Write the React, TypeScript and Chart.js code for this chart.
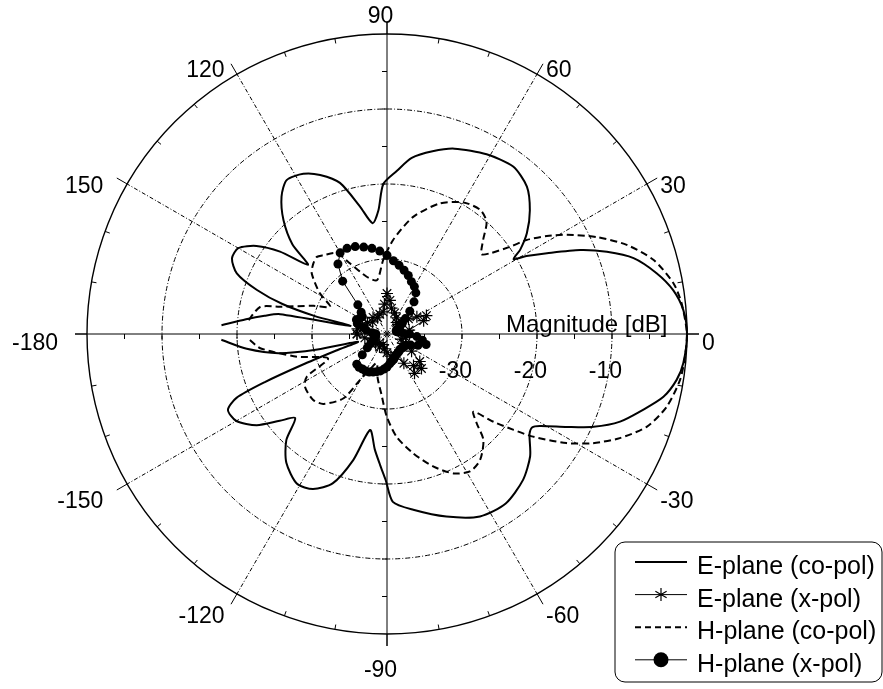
import React, { useEffect, useRef } from 'react';
import { Chart, registerables } from 'chart.js';

Chart.register(...registerables);

// ---------- data (angle in degrees, magnitude in dB) ----------
const ePlaneCoAngles = [
  -178, -174, -170, -167.5, -165, -162, -160, -158.5, -157, -154.5,
  -150, -145, -141, -137.5, -133.5, -128, -121, -115.5, -110, -105,
  -100, -96, -93, -90.5, -88, -81.5, -72, -63, -55, -47,
  -40.5, -35, -32.8, -31, -27.3, -24.2, -20.6, -16.5, -12.8, -9,
  -5.6, 0, 4.6, 8.7, 12.7, 17.1, 20.5, 23.5, 26.8, 29.2,
  30.6, 32.3, 35.8, 40.9, 46.5, 53, 61, 70, 76, 82,
  86.5, 91.4, 94, 97.4, 102, 107.3, 112.8, 117.6, 123.1, 127.5,
  132.3, 136.5, 138.8, 142.4, 146, 150, 154, 158, 161.3, 164,
  166, 167.5, 169.5, 171.5, 174, 177,
];
const ePlaneCoDb = [
  -17.9, -21.2, -25.3, -30.5, -36, -33, -28, -22.5, -18.2, -16.5,
  -16.8, -18.8, -21.6, -23.4, -20.5, -18.2, -16.7, -17.1, -18.8, -22.6,
  -27, -24.5, -22.5, -20.5, -17.6, -16.3, -14.4, -12.7, -12.4, -13.4,
  -14.9, -16.8, -17.0, -16.2, -13.0, -9.8, -6.8, -4.4, -2.2, -0.9,
  -0.3, 0, -0.36, -1.4, -3.15, -5.6, -8.7, -11.9, -16.1, -18.7,
  -20.4, -19.0, -17.0, -14.8, -12.9, -12.05, -12.6, -13.7, -14.9, -16.3,
  -18.2, -20, -23.5, -25.1, -22.6, -18.9, -17.0, -15.9, -15.5, -16.9,
  -19.5, -22.6, -26.0, -22.0, -19.0, -17.1, -17.0, -18.4, -21.7, -25.5,
  -30, -35, -25.5, -23.5, -21.1, -17.9,
];

const ePlaneXAngles = [
  -180, -170, -160, -150, -140, -130, -120, -110, -100, -90,
  -80, -70, -60, -55, -50, -45, -40, -35, -30, -20,
  -10, 0, 10, 20, 25, 30, 35, 40, 50, 60,
  70, 80, 85, 90, 95, 100, 110, 120, 130, 140,
  150, 160, 170, 180,
];
const ePlaneXDb = [
  -36, -37, -38, -37.5, -38, -38.5, -38, -38.5, -38, -37.5,
  -37, -37, -35.5, -33.6, -34.5, -33.5, -34.3, -36, -37.5, -38,
  -37.5, -37, -37, -34.8, -34.2, -35.4, -36.5, -38, -38, -37.5,
  -37, -36.5, -35.5, -34.6, -36, -37, -37.2, -37.5, -37.1, -37.5,
  -37, -36.5, -36, -36,
];

const hPlaneCoAngles = [
  -177.5, -173.6, -165.9, -157.5, -152, -147.3, -138.2, -132.3, -124.2, -120.4,
  -115, -109.4, -102, -95, -90.2, -84.6, -77.6, -70.8, -64.5, -58.9,
  -53.6, -47.7, -44.9, -42, -39.5, -37.2, -35.1, -31.3, -27.9, -24.1,
  -19.6, -14.6, -8.9, -4.4, 0, 5.9, 10, 15.5, 20.4, 24.8,
  28.9, 31.5, 33.9, 35.3, 38, 40.2, 44.3, 48.4, 53.1, 59.8,
  67.9, 77.4, 86.2, 92.9, 100.5, 109.5, 117.6, 121.9, 128.9, 132.3,
  136.2, 141.1, 148.7, 154.4, 159, 165.7, 168, 175.6,
];
const hPlaneCoDb = [
  -21.7, -23.0, -27.6, -31.5, -27.9, -27.0, -26.8, -27.4, -29.6, -32.9,
  -35, -35.9, -34, -31.8, -29.0, -26.2, -23.7, -21.3, -19.4, -18.6,
  -19.1, -20.9, -23.1, -24.5, -21.6, -18.9, -16.2, -12.0, -8.9, -6.0,
  -3.2, -1.47, -0.45, -0.15, 0, -0.5, -1.2, -3.1, -5.9, -9.2,
  -12.6, -15.0, -17.5, -19.8, -22.5, -23.5, -22.1, -20.0, -19.3, -19.7,
  -21.2, -24.0, -27.4, -30.1, -32.7, -31.9, -29.4, -27.3, -26.5, -26.1,
  -26.4, -27.1, -29.5, -31.6, -29.5, -25.3, -22.7, -21.2,
];

const hPlaneXAngles = [
  -180, -175, -170, -165, -160, -155, -150, -145, -140, -135,
  -130, -125, -120, -115, -110, -105, -100, -95, -90, -85,
  -80, -75, -70, -65, -60, -55, -50, -45, -40, -35,
  -30, -25, -20, -15, -10, -5, 0, 5, 10, 15,
  20, 25, 30, 35, 40, 45, 50, 55, 60, 65,
  70, 75, 80, 85, 90, 95, 100, 105, 110, 115,
  120, 125, 130, 135, 140, 145, 150, 155, 160, 165,
  170, 175, 180,
];
const hPlaneXDb = [
  -38.5, -38.5, -38.4, -38.3, -38.2, -38, -37.5, -36.8, -35.7, -34.3,
  -34.2, -34.3, -34.3, -34.4, -34.6, -34.8, -35, -35.3, -35.6, -36,
  -36.3, -36.5, -36.8, -37, -37.1, -37.2, -37.3, -37.3, -37.2, -37.2,
  -37, -36.5, -35.6, -34.6, -35.2, -36, -37, -38, -38.5, -38.7,
  -38.7, -38.5, -38, -37.5, -36.8, -35.7, -34.4, -33.3, -32.7, -32.3,
  -31.7, -31.2, -30.7, -30.2, -29.5, -28.9, -28.4, -28.0, -27.6, -27.4,
  -27.5, -28.6, -30.8, -34.5, -35.5, -36, -35.8, -35.5, -35.8, -36.8,
  -37.2, -38, -38.5,
];

const ringDb = [-30, -20, -10];
const ringLabels = ['-30', '-20', '-10'];
const axisTickDb = [-35, -30, -25, -20, -15, -10, -5];
const angleTicks = [0, 30, 60, 90, 120, 150, 180, 210, 240, 270, 300, 330];
const angleTickLabels = ['0', '30', '60', '90', '120', '150', '-180', '-150', '-120', '-90', '-60', '-30'];
const radialTitle = 'Magnitude [dB]';
const legendLabels = ['E-plane (co-pol)', 'E-plane (x-pol)', 'H-plane (co-pol)', 'H-plane (x-pol)'];

const DB_MIN = -40;
const DB_MAX = 0;
const FONT = '"Liberation Sans", Arial, Helvetica, sans-serif';

function polarPoints(angles: number[], db: number[]) {
  return angles.map((a, i) => {
    const r = Math.max(0, db[i] - DB_MIN);
    const t = (a * Math.PI) / 180;
    return { x: r * Math.cos(t), y: r * Math.sin(t) };
  });
}

function geom(chart: any) {
  const xs = chart.scales.x;
  const ys = chart.scales.y;
  const cx = xs.getPixelForValue(0);
  const cy = ys.getPixelForValue(0);
  const rad = (db: number) => xs.getPixelForValue(db - DB_MIN) - cx;
  return { cx, cy, rad, R: rad(DB_MAX) };
}

const polarGridPlugin = {
  id: 'polarGrid',
  beforeDatasetsDraw(chart: any) {
    const { ctx } = chart;
    const { cx, cy, rad, R } = geom(chart);
    const ext = 12;
    ctx.save();
    ctx.strokeStyle = '#000';
    ctx.lineWidth = 1;
    // dash-dot rings
    ctx.setLineDash([5, 2, 1, 2]);
    for (const d of ringDb) {
      ctx.beginPath();
      ctx.arc(cx, cy, rad(d), 0, Math.PI * 2);
      ctx.stroke();
    }
    // dash-dot spokes
    ctx.setLineDash([4, 2, 1, 2]);
    for (const a of angleTicks) {
      if (a % 90 === 0) continue;
      const t = (a * Math.PI) / 180;
      ctx.beginPath();
      ctx.moveTo(cx, cy);
      ctx.lineTo(cx + R * Math.cos(t), cy - R * Math.sin(t));
      ctx.stroke();
    }
    ctx.setLineDash([]);
    // outward ticks at spokes
    for (const a of angleTicks) {
      const t = (a * Math.PI) / 180;
      ctx.beginPath();
      ctx.moveTo(cx + R * Math.cos(t), cy - R * Math.sin(t));
      ctx.lineTo(cx + (R + ext) * Math.cos(t), cy - (R + ext) * Math.sin(t));
      ctx.stroke();
    }
    // inward minor ticks every 10 deg
    for (let a = 0; a < 360; a += 10) {
      if (a % 30 === 0) continue;
      const t = (a * Math.PI) / 180;
      ctx.beginPath();
      ctx.moveTo(cx + (R - 5) * Math.cos(t), cy - (R - 5) * Math.sin(t));
      ctx.lineTo(cx + R * Math.cos(t), cy - R * Math.sin(t));
      ctx.stroke();
    }
    // axes
    ctx.beginPath();
    ctx.moveTo(cx - R - ext, cy);
    ctx.lineTo(cx + R + ext, cy);
    ctx.moveTo(cx, cy - R - ext);
    ctx.lineTo(cx, cy + R + ext);
    ctx.stroke();
    // axis ticks
    for (const d of axisTickDb) {
      const r = rad(d);
      ctx.beginPath();
      ctx.moveTo(cx + r, cy);
      ctx.lineTo(cx + r, cy + 5);
      ctx.moveTo(cx - r, cy);
      ctx.lineTo(cx - r, cy + 5);
      ctx.moveTo(cx, cy - r);
      ctx.lineTo(cx - 5, cy - r);
      ctx.moveTo(cx, cy + r);
      ctx.lineTo(cx - 5, cy + r);
      ctx.stroke();
    }
    // outer circle
    ctx.lineWidth = 1.4;
    ctx.beginPath();
    ctx.arc(cx, cy, R, 0, Math.PI * 2);
    ctx.stroke();
    ctx.restore();
  },
  afterDraw(chart: any) {
    const { ctx } = chart;
    const { cx, cy, rad, R } = geom(chart);
    ctx.save();
    ctx.fillStyle = '#000';
    ctx.textBaseline = 'alphabetic';
    // angle labels
    ctx.font = `23px ${FONT}`;
    angleTicks.forEach((a, i) => {
      const t = (a * Math.PI) / 180;
      const c = Math.cos(t);
      const s = Math.sin(t);
      const end = R + 12;
      let x;
      if (c > 0.01) {
        ctx.textAlign = 'left';
        x = cx + end * c + 3;
      } else if (c < -0.01) {
        ctx.textAlign = 'right';
        x = cx + end * c - 3 - 14 * c * c;
      } else {
        ctx.textAlign = 'center';
        x = cx - 6.5;
      }
      const rr = R + 15 + (Math.abs(s) > 0.99 ? 12 : 0);
      const y = cy + 16 - s * rr;
      ctx.fillText(angleTickLabels[i], x, y);
    });
    // ring labels
    ctx.textAlign = 'right';
    ringDb.forEach((d, i) => {
      ctx.fillText(ringLabels[i], cx + rad(d) + 10, cy + 44);
    });
    // radial title
    ctx.font = `24px ${FONT}`;
    ctx.textAlign = 'left';
    ctx.fillText(radialTitle, cx + rad(-24) - 1, cy - 2);

    // legend
    const bx = 615, by = 542, bw = 267, bh = 140, br = 10;
    ctx.lineWidth = 1;
    ctx.strokeStyle = '#000';
    ctx.fillStyle = '#fff';
    ctx.beginPath();
    ctx.moveTo(bx + br, by);
    ctx.lineTo(bx + bw - br, by);
    ctx.arcTo(bx + bw, by, bx + bw, by + br, br);
    ctx.lineTo(bx + bw, by + bh - br);
    ctx.arcTo(bx + bw, by + bh, bx + bw - br, by + bh, br);
    ctx.lineTo(bx + br, by + bh);
    ctx.arcTo(bx, by + bh, bx, by + bh - br, br);
    ctx.lineTo(bx, by + br);
    ctx.arcTo(bx, by, bx + br, by, br);
    ctx.closePath();
    ctx.fill();
    ctx.stroke();

    const l0 = 635, l1 = 687, lm = (l0 + l1) / 2, tx = 697;
    ctx.font = `25px ${FONT}`;
    ctx.textAlign = 'left';
    legendLabels.forEach((label, i) => {
      const base = 574 + i * 32.6;
      const ly = base - 12;
      ctx.strokeStyle = '#000';
      ctx.fillStyle = '#000';
      ctx.setLineDash(i === 2 ? [6, 4] : []);
      ctx.lineWidth = i === 0 || i === 2 ? 2 : 1;
      ctx.beginPath();
      ctx.moveTo(l0, ly);
      ctx.lineTo(l1, ly);
      ctx.stroke();
      ctx.setLineDash([]);
      if (i === 1) {
        const m = 6.5;
        ctx.lineWidth = 1.2;
        ctx.beginPath();
        for (let k = 0; k < 3; k++) {
          const t = Math.PI / 2 + (k * Math.PI) / 3;
          ctx.moveTo(lm - m * Math.cos(t), ly - m * Math.sin(t));
          ctx.lineTo(lm + m * Math.cos(t), ly + m * Math.sin(t));
        }
        ctx.stroke();
      }
      if (i === 3) {
        ctx.beginPath();
        ctx.arc(lm, ly, 7.5, 0, Math.PI * 2);
        ctx.fill();
      }
      ctx.fillText(label, tx, base);
    });
    ctx.restore();
  },
};

export default function App() {
  const canvasRef = useRef<HTMLCanvasElement | null>(null);

  useEffect(() => {
    const canvas = canvasRef.current;
    if (!canvas) return;
    const chart = new Chart(canvas, {
      type: 'scatter',
      data: {
        datasets: [
          {
            label: legendLabels[1],
            data: polarPoints(ePlaneXAngles, ePlaneXDb),
            showLine: true,
            borderColor: '#000',
            borderWidth: 1,
            pointStyle: 'star',
            pointRadius: 6,
            pointBorderWidth: 1.2,
            pointBorderColor: '#000',
            pointBackgroundColor: '#000',
            tension: 0,
            clip: false,
          },
          {
            label: legendLabels[3],
            data: polarPoints(hPlaneXAngles, hPlaneXDb),
            showLine: true,
            borderColor: '#000',
            borderWidth: 1,
            pointStyle: 'circle',
            pointRadius: 4.5,
            pointBorderWidth: 0,
            pointBackgroundColor: '#000',
            tension: 0,
            clip: false,
          },
          {
            label: legendLabels[0],
            data: polarPoints(ePlaneCoAngles, ePlaneCoDb),
            showLine: true,
            borderColor: '#000',
            borderWidth: 2,
            pointRadius: 0,
            tension: 0.25,
            clip: false,
          },
          {
            label: legendLabels[2],
            data: polarPoints(hPlaneCoAngles, hPlaneCoDb),
            showLine: true,
            borderColor: '#000',
            borderWidth: 2,
            borderDash: [7, 4],
            pointRadius: 0,
            tension: 0.25,
            clip: false,
          },
        ],
      },
      options: {
        animation: false,
        responsive: false,
        events: [],
        layout: { padding: { left: 87, right: 196, top: 34, bottom: 55 } },
        plugins: {
          legend: { display: false },
          tooltip: { enabled: false },
        },
        scales: {
          x: { type: 'linear', min: DB_MIN - DB_MAX, max: DB_MAX - DB_MIN, display: false },
          y: { type: 'linear', min: DB_MIN - DB_MAX, max: DB_MAX - DB_MIN, display: false },
        },
      },
      plugins: [polarGridPlugin],
    } as any);
    return () => chart.destroy();
  }, []);

  return (
    <canvas
      ref={canvasRef}
      width={883}
      height={689}
      style={{ position: 'absolute', left: 0, top: 0, display: 'block' }}
    />
  );
}
